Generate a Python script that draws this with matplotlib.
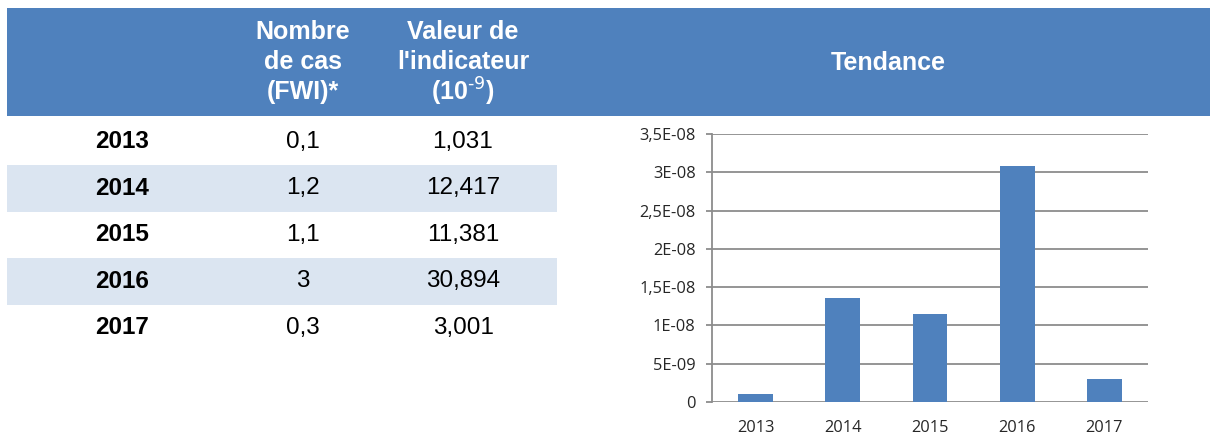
import numpy as np
import matplotlib.pyplot as plt
from matplotlib.patches import Rectangle

# données du tableau
annees = ["2013", "2014", "2015", "2016", "2017"]
nb_cas = ["0,1", "1,2", "1,1", "3", "0,3"]
valeurs = ["1,031", "12,417", "11,381", "30,894", "3,001"]

# valeurs du graphique
tendance = [1.05e-9, 1.353e-8, 1.144e-8, 3.085e-8, 3.0e-9]
yticks = [0, 5e-9, 1e-8, 1.5e-8, 2e-8, 2.5e-8, 3e-8, 3.5e-8]
ytick_labels = ["0", "5E-09", "1E-08", "1,5E-08", "2E-08", "2,5E-08", "3E-08", "3,5E-08"]

bleu = "#4F81BD"
bleu_clair = "#DBE5F1"

plt.rcParams['font.family'] = ['Liberation Sans', 'DejaVu Sans']
plt.rcParams['mathtext.default'] = 'regular'

fig = plt.figure(figsize=(12.1, 4.36), dpi=100)

# fond en coordonnées pixel
bg = fig.add_axes([0, 0, 1, 1])
bg.set_xlim(0, 1210)
bg.set_ylim(436, 0)
bg.axis('off')

# bandeau d'en-tête
bg.add_patch(Rectangle((7, 8), 1203, 108, color=bleu, lw=0))
entete = dict(color='white', fontweight='bold', fontsize=18, ha='center', va='center')
for i, ligne in enumerate(["Nombre", "de cas", "(FWI)*"]):
    bg.text(303, 32 + 30 * i, ligne, **entete)
for i, ligne in enumerate(["Valeur de", "l'indicateur", "(10$^{\\text{-9}}$)"]):
    bg.text(463, 32 + 30 * i, ligne, **entete)
bg.text(888, 63, "Tendance", **entete)

# lignes du tableau
y0 = 141.5
pas = 46.6
for i in range(len(annees)):
    y = y0 + pas * i
    if i % 2 == 1:
        bg.add_patch(Rectangle((7, y - 23.5), 550, 47, color=bleu_clair, lw=0))
    bg.text(122, y, annees[i], fontsize=17.5, fontweight='bold', ha='center', va='center')
    bg.text(303, y, nb_cas[i], fontsize=17.5, ha='center', va='center')
    bg.text(463, y, valeurs[i], fontsize=17.5, ha='center', va='center')

# graphique de tendance
ax = fig.add_axes([712 / 1210, (436 - 401.7) / 436, 436 / 1210, 267.4 / 436])
x = np.arange(len(annees))
ax.bar(x, tendance, width=0.4, color=bleu, zorder=3)
ax.set_xlim(-0.5, len(annees) - 0.5)
ax.set_ylim(0, 3.5e-8)
ax.set_yticks(yticks)
ax.set_yticklabels(ytick_labels)
ax.set_xticks(x)
ax.set_xticklabels(annees)
ax.grid(axis='y', color='#8C8C8C', lw=1.3, zorder=0)
for s in ['top', 'right', 'bottom']:
    ax.spines[s].set_visible(False)
ax.spines['left'].set_color('#8C8C8C')
ax.spines['left'].set_linewidth(1.3)
ax.tick_params(axis='y', length=4.3, width=1.3, color='#8C8C8C', pad=7.5,
               labelsize=11.8, labelcolor='#262626')
ax.tick_params(axis='x', length=0, pad=13, labelsize=11.8, labelcolor='#262626')
for lab in ax.get_xticklabels() + ax.get_yticklabels():
    lab.set_family('Open Sans')

plt.savefig('out.png', dpi=100)
